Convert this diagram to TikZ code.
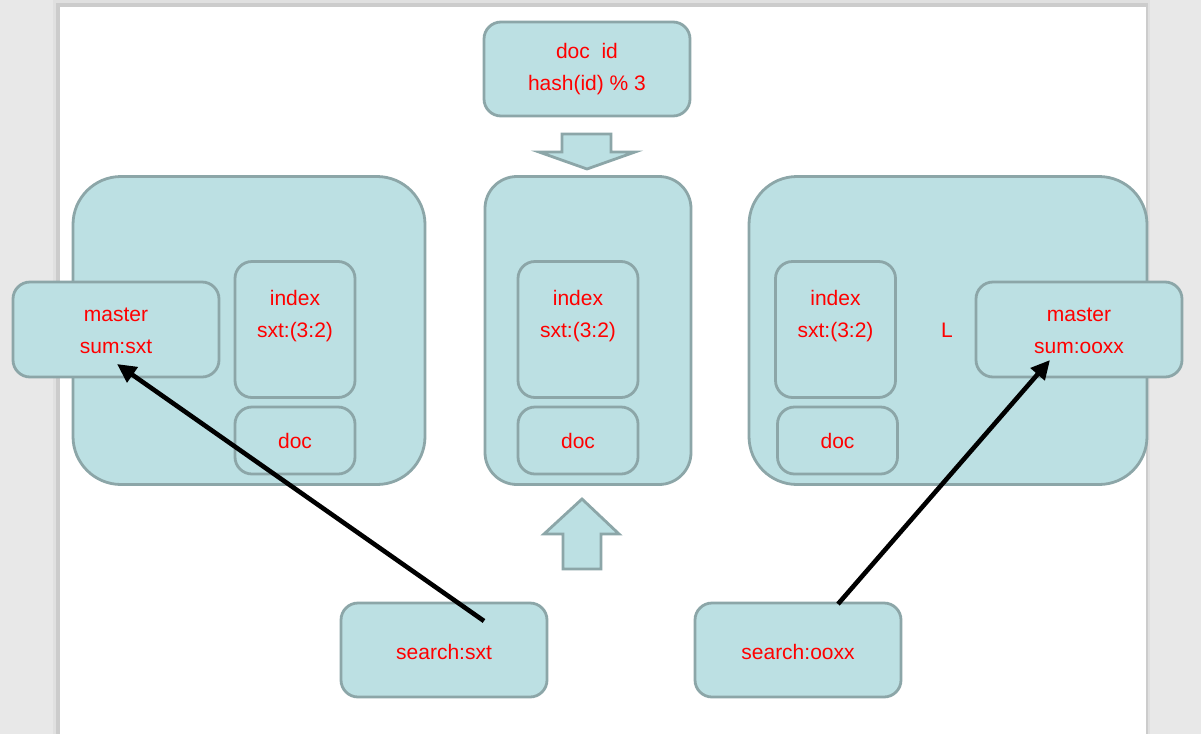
\documentclass[tikz,border=0pt]{standalone}
\usepackage{fontspec}
\setmainfont{Liberation Sans}
\usetikzlibrary{arrows.meta}
\definecolor{boxfill}{RGB}{188,224,227}
\definecolor{boxline}{RGB}{140,166,168}
\definecolor{pagebg}{RGB}{232,232,232}
\definecolor{txtred}{RGB}{255,0,0}
\tikzset{
  box/.style={draw=boxline, fill=boxfill, line width=2.8pt, rectangle, inner sep=0pt},
  smallr/.style={rounded corners=17pt},
  txt/.style={text=txtred, font=\fontsize{21}{32}\selectfont, align=center, inner sep=0pt},
  blockarrow/.style={draw=boxline, fill=boxfill, line width=2.8pt, line join=miter},
  link/.style={draw=black, line width=4.6pt, -{Triangle[length=19pt,width=18pt]}}
}
\begin{document}
\begin{tikzpicture}[x=1pt,y=-1pt]
\useasboundingbox (0,0) rectangle (1201,734);
% background and page
\fill[pagebg] (0,0) rectangle (1201,734);
\fill[black!12] (53,0) rectangle (1150,734);
\fill[black!20] (56,3) rectangle (1148,734);
\fill[white] (60,7) rectangle (1146,734);

% big containers
\node[box, rounded corners=48pt, minimum width=352pt, minimum height=308pt] (bigL) at (249,330.5) {};
\node[box, rounded corners=32pt, minimum width=206pt, minimum height=308pt] (bigM) at (588,330.5) {};
\node[box, rounded corners=48pt, minimum width=398pt, minimum height=308pt] (bigR) at (948,330.5) {};

% top box
\node[box, smallr, minimum width=206pt, minimum height=94pt] (docid) at (587,69) {};
\node[txt] (docidt) at (587,69.5) {doc\ \ id\\hash(id) \% 3};

% block arrows
\draw[blockarrow] (562,134) -- (611,134) -- (611,152) -- (635,152) -- (587,169) -- (539,152) -- (562,152) -- cycle;
\draw[blockarrow] (582,499) -- (619,534) -- (601,534) -- (601,569) -- (563,569) -- (563,534) -- (544,534) -- cycle;

% left inner
\node[box, smallr, minimum width=120pt, minimum height=136pt] (idxL) at (295,329.5) {};
\node[txt] (idxLt) at (295,316) {index\\sxt:(3:2)};
\node[box, smallr, minimum width=120pt, minimum height=67pt] (docL) at (295,440.5) {};
\node[txt] (docLt) at (295,440.5) {doc};

% middle inner
\node[box, smallr, minimum width=120pt, minimum height=136pt] (idxM) at (578,329.5) {};
\node[txt] (idxMt) at (578,316) {index\\sxt:(3:2)};
\node[box, smallr, minimum width=120pt, minimum height=67pt] (docM) at (578,440.5) {};
\node[txt] (docMt) at (578,440.5) {doc};

% right inner
\node[box, smallr, minimum width=120pt, minimum height=136pt] (idxR) at (835.5,329.5) {};
\node[txt] (idxRt) at (835.5,316) {index\\sxt:(3:2)};
\node[box, smallr, minimum width=120pt, minimum height=67pt] (docR) at (837.5,440.5) {};
\node[txt] (docRt) at (837.5,440.5) {doc};
\node[txt] (Lmark) at (947,330) {L};

% masters
\node[box, smallr, minimum width=206pt, minimum height=95pt] (mL) at (116,329.5) {};
\node[txt] (mLt) at (116,331) {master\\sum:sxt};
\node[box, smallr, minimum width=206pt, minimum height=95pt] (mR) at (1079,329.5) {};
\node[txt] (mRt) at (1079,331) {master\\sum:ooxx};

% search boxes
\node[box, smallr, minimum width=206pt, minimum height=94pt] (sL) at (444,650) {};
\node[txt] (sLt) at (444,652) {search:sxt};
\node[box, smallr, minimum width=206pt, minimum height=94pt] (sR) at (798,650) {};
\node[txt] (sRt) at (798,652) {search:ooxx};

% connectors
\coordinate (sLfrom) at (484,621);
\coordinate (mLto) at (117,364);
\coordinate (sRfrom) at (838,604);
\coordinate (mRto) at (1050,360);
\draw[link] (sLfrom) -- (mLto);
\draw[link] (sRfrom) -- (mRto);
\end{tikzpicture}
\end{document}
